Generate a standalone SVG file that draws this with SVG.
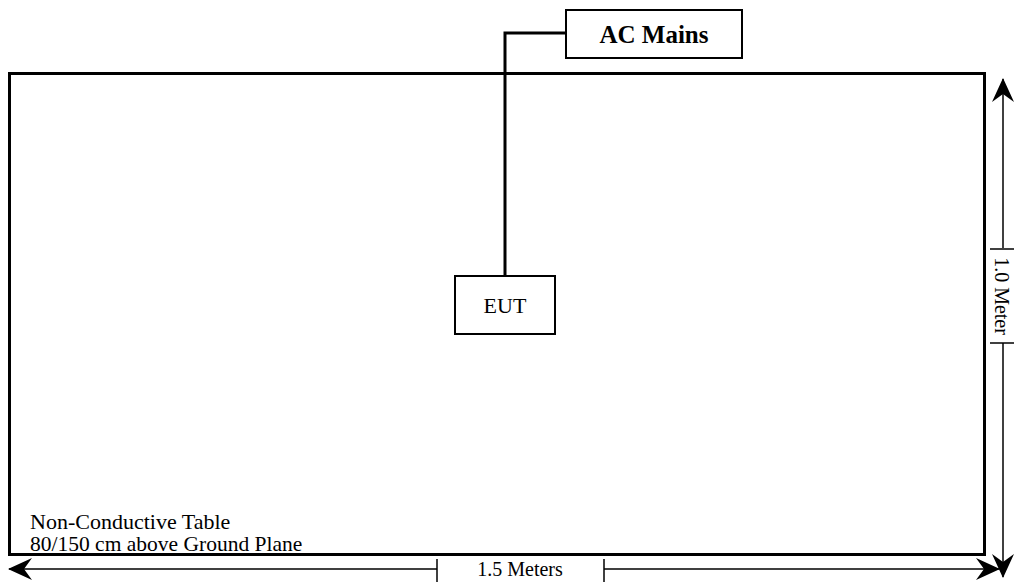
<svg xmlns="http://www.w3.org/2000/svg" width="1014" height="582" viewBox="0 0 1014 582">
<style>
.box{fill:#fff;stroke:#000;stroke-width:2}
.thick{fill:none;stroke:#000;stroke-width:3}
.dim{fill:none;stroke:#000;stroke-width:1.5}
.t{font-family:"Liberation Serif",serif;fill:#000}
</style>
<defs>
<marker id="ah" viewBox="0 0 24 22" refX="23" refY="11" markerWidth="24" markerHeight="22" markerUnits="userSpaceOnUse" orient="auto">
<path d="M0,0 L24,11 L0,22 L8,11 Z" fill="#000"/>
</marker>
</defs>
<rect width="1014" height="582" fill="#fff"/>
<g id="table">
<rect x="9.5" y="73.5" width="975" height="481" class="thick"/>
<text class="t" x="30" y="529" font-size="22">Non-Conductive Table</text>
<text class="t" x="30" y="551" font-size="21.5">80/150 cm above Ground Plane</text>
</g>
<g id="connectors">
<path d="M566,33 H505 V276" class="thick"/>
<line x1="1003" y1="248" x2="1003" y2="79" class="dim" marker-end="url(#ah)"/>
<line x1="1003" y1="343" x2="1003" y2="577" class="dim" marker-end="url(#ah)"/>
<line x1="990" y1="249" x2="1014" y2="249" class="dim"/>
<line x1="990" y1="343" x2="1014" y2="343" class="dim"/>
<line x1="437" y1="569" x2="9" y2="569" class="dim" marker-end="url(#ah)"/>
<line x1="604" y1="569" x2="999" y2="569" class="dim" marker-end="url(#ah)"/>
<line x1="437" y1="559" x2="437" y2="582" class="dim"/>
<line x1="604" y1="559" x2="604" y2="582" class="dim"/>
</g>
<g id="ac-mains">
<rect x="566" y="10" width="176" height="48" class="box"/>
<text class="t" x="654" y="43" font-size="25" font-weight="bold" text-anchor="middle">AC Mains</text>
</g>
<g id="eut">
<rect x="455" y="276" width="100" height="58" class="box"/>
<text class="t" x="505" y="313" font-size="22" text-anchor="middle">EUT</text>
</g>
<g id="dim-height">
<text class="t" font-size="20" text-anchor="middle" transform="translate(995,296) rotate(90)">1.0 Meter</text>
</g>
<g id="dim-width">
<text class="t" x="520" y="576" font-size="20" text-anchor="middle">1.5 Meters</text>
</g>
</svg>
